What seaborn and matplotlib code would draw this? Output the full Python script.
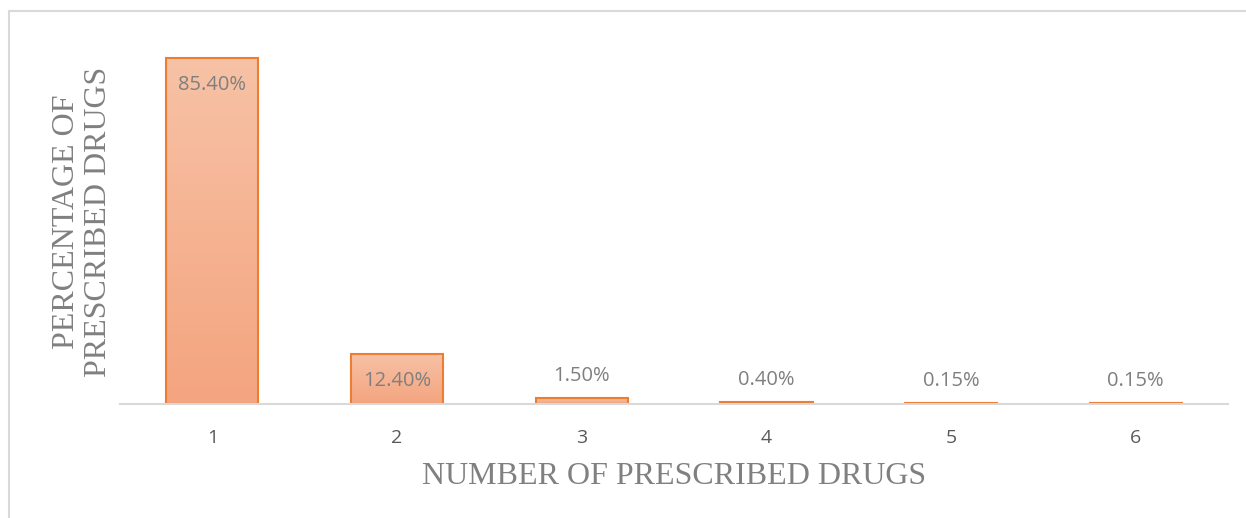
import numpy as np
import pandas as pd
import seaborn as sns
import matplotlib.pyplot as plt
from matplotlib.colors import LinearSegmentedColormap
from matplotlib.lines import Line2D

# data
drug_counts = ["1", "2", "3", "4", "5", "6"]
percentages = [85.40, 12.40, 1.50, 0.40, 0.15, 0.15]
bar_labels = ["85.40%", "12.40%", "1.50%", "0.40%", "0.15%", "0.15%"]
inside_label = [True, True, False, False, False, False]

sns.set_theme(style="white")
plt.rcParams["font.family"] = ["Open Sans", "DejaVu Sans"]

df = pd.DataFrame({"n": drug_counts, "pct": percentages})

fig = plt.figure(figsize=(12.46, 5.18), dpi=100)
ax = fig.add_axes([0.0963, 0.2201, 0.8893, 0.7039])

sns.barplot(data=df, x="n", y="pct", ax=ax, width=0.5,
            color="#F5B090", edgecolor="#ED7D31", linewidth=1.5, saturation=1)

# gradient fill per bar, light at top, darker at bottom
grad = LinearSegmentedColormap.from_list("g", ["#F4A47F", "#F7C2A6"])
img = np.linspace(0, 1, 256).reshape(-1, 1)
for p in ax.patches:
    x0, y0 = p.get_x(), p.get_y()
    w, h = p.get_width(), p.get_height()
    im = ax.imshow(img, cmap=grad, origin="lower", aspect="auto",
                   extent=[x0, x0 + w, y0, y0 + h], zorder=p.get_zorder() - 0.1)
    im.set_clip_path(p)
    p.set_facecolor("none")

ax.set_xlim(-0.5, 5.5)
ax.set_ylim(0, 90)

for i, (v, lab) in enumerate(zip(percentages, bar_labels)):
    off = -27 if inside_label[i] else 22
    ax.annotate(lab, (i, v), xytext=(0, off), textcoords="offset pixels",
                ha="center", va="center", fontsize=14.5, color="#7F7F7F")

for s in ["top", "right", "left"]:
    ax.spines[s].set_visible(False)
ax.spines["bottom"].set_color("#D9D9D9")
ax.spines["bottom"].set_linewidth(1.5)
ax.set_yticks([])
ax.tick_params(axis="x", length=0, pad=18, labelsize=14, labelcolor="#595959")

ax.set_xlabel("NUMBER OF PRESCRIBED DRUGS", family="Liberation Serif",
              fontsize=23, color="#808080", labelpad=11)
ax.set_ylabel("PERCENTAGE OF\nPRESCRIBED DRUGS", family="Liberation Serif",
              fontsize=23, color="#808080", labelpad=5, linespacing=1.15)

# chart-area frame edges (top and left visible in the crop)
fig.add_artist(Line2D([9 / 1246, 9 / 1246], [0, 1 - 11 / 518],
                      transform=fig.transFigure, color="#D9D9D9", lw=1.5))
fig.add_artist(Line2D([9 / 1246, 1], [1 - 11 / 518, 1 - 11 / 518],
                      transform=fig.transFigure, color="#D9D9D9", lw=1.5))

fig.savefig("out.png", dpi=100, facecolor="white")
